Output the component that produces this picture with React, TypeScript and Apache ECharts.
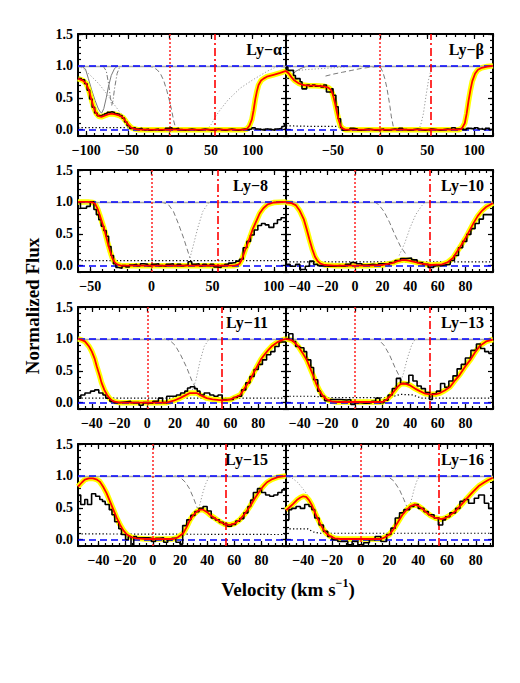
import React, { useEffect, useRef } from 'react';
import * as echarts from 'echarts';

type P = [number, number][];

// ---------- Ly-alpha ----------
const lyaData: P = [[-110,0.80],[-106,0.78],[-102,0.72],[-99,0.62],[-96,0.48],[-93,0.35],[-90,0.26],[-87,0.22],[-84,0.21],[-81,0.23],[-78,0.25],[-75,0.27],[-72,0.28],[-69,0.27],[-66,0.25],[-63,0.24],[-60,0.22],[-57,0.18],[-54,0.12],[-51,0.06],[-48,0.02],[-45,0.03],[-41,0.01],[-37,0.02],[-33,0.0],[-29,0.01],[-25,-0.01],[-21,0.0],[-17,0.01],[-13,-0.01],[-9,0.0],[-5,0.02],[-1,0.03],[3,0.01],[7,0.02],[11,0.0],[15,-0.01],[19,0.0],[23,0.01],[27,0.0],[31,-0.01],[35,0.0],[39,0.01],[43,0.0],[47,-0.01],[51,0.0],[55,0.01],[59,0.0],[63,-0.01],[67,0.0],[71,0.01],[75,0.0],[79,-0.01],[83,0.0],[87,0.01],[91,0.0],[95,0.01],[99,0.03],[103,0.01],[107,0.0],[111,-0.01],[115,0.01],[119,0.0],[123,-0.01],[127,0.01],[131,0.02],[135,0.05],[138,0.09],[140,0.09]];
const lyaModel: P = [[-110,0.80],[-104,0.77],[-100,0.72],[-97,0.62],[-94,0.48],[-91,0.34],[-88,0.25],[-85,0.21],[-82,0.20],[-78,0.22],[-74,0.24],[-70,0.25],[-65,0.24],[-60,0.22],[-56,0.19],[-52,0.12],[-49,0.07],[-46,0.03],[-42,0.01],[-38,0.0],[90,0.0],[93,0.01],[96,0.06],[99,0.16],[101,0.3],[103,0.47],[105,0.6],[107,0.7],[110,0.77],[113,0.80],[117,0.83],[125,0.86],[133,0.89],[140,0.92]];
const lyaError: P = [[-110,0.03],[-45,0.03],[-40,0.01],[140,0.01]];
const lyaCompA: P = [[-106,1.0],[-101,0.95],[-97.5,0.8],[-93.5,0.62],[-89.5,0.46],[-86,0.34],[-83.5,0.28],[-81.5,0.26],[-79,0.33],[-76,0.5],[-73.5,0.67],[-70,0.85],[-66,0.96],[-62,1.0]];
const lyaCompB: P = [[-80,1.0],[-76,0.92],[-73,0.7],[-71,0.5],[-69.5,0.38],[-68,0.45],[-66,0.65],[-63,0.88],[-60,0.98],[-56,1.0]];
const lyaCompC: P = [[-110,1.0],[-104,0.96],[-95,0.85],[-85,0.72],[-76,0.57],[-68,0.42],[-60,0.28],[-52,0.16],[-46,0.08],[-40,0.02],[-34,0.0]];
const lyaCompD: P = [[-26,1.0],[-20,0.98],[-15,0.94],[-11,0.88],[-7,0.77],[-3.4,0.62],[0,0.45],[2.6,0.30],[5,0.14],[7,0.04],[10,0.0]];
const lyaCompE: P = [[40,0.0],[46,0.02],[50,0.08],[55,0.2],[62,0.33],[70,0.46],[77,0.55],[85,0.65],[93,0.72],[100,0.78],[109,0.85],[118,0.92],[126,0.97],[134,1.0],[140,1.0]];

// ---------- Ly-beta ----------
const lybData: P = [[-100,0.98],[-98,0.93],[-94,0.93],[-92,0.85],[-90,0.80],[-87,0.80],[-85,0.75],[-83,0.64],[-80,0.64],[-78,0.70],[-75,0.68],[-72,0.70],[-69,0.68],[-66,0.69],[-63,0.67],[-60,0.70],[-57,0.59],[-53,0.59],[-51.5,0.64],[-50,0.54],[-47,0.36],[-44.5,0.17],[-42,0.03],[-40,-0.01],[-36,0.0],[-32,0.02],[-28,0.01],[-24,-0.01],[-20,0.0],[-16,0.01],[-12,0.0],[-8,-0.01],[-4,0.0],[0,0.01],[4,-0.01],[8,0.0],[12,0.01],[16,0.0],[20,0.02],[24,0.0],[28,-0.01],[32,0.0],[36,0.01],[40,0.0],[44,-0.01],[48,0.0],[52,0.01],[56,0.0],[60,-0.01],[64,0.0],[68,0.01],[72,0.0],[76,0.03],[80,0.01],[84,0.02],[88,0.0],[92,0.02],[96,0.01],[100,0.03],[104,0.01],[108,0.0],[112,0.02],[116,0.0],[120,0.0]];
const lybModel: P = [[-100,0.92],[-97,0.88],[-94,0.82],[-91,0.77],[-87,0.73],[-82,0.70],[-76,0.69],[-68,0.69],[-60,0.68],[-55,0.66],[-52,0.62],[-50,0.54],[-48,0.42],[-46,0.28],[-44,0.15],[-42,0.06],[-40,0.02],[-37,0.0],[84,0.0],[87,0.02],[90,0.1],[92,0.25],[94,0.45],[96,0.62],[98,0.76],[101,0.88],[104,0.94],[108,0.97],[114,0.99],[120,1.0]];
const lybError: P = [[-100,0.06],[-70,0.05],[-45,0.05],[-40,0.02],[120,0.02]];
const lybCompA: P = [[-100,0.8],[-97,0.82],[-93,0.87],[-89,0.92],[-84,0.96],[-79,0.99],[-74,1.0]];
const lybCompB: P = [[-100,0.9],[-90,0.92],[-80,0.94],[-70,0.95],[-60,0.96],[-50,0.97],[-40,0.98],[-30,0.99],[-20,1.0]];
const lybCompC: P = [[-58,0.84],[-50,0.87],[-40,0.9],[-30,0.93],[-20,0.96],[-10,0.98],[0,0.99],[3,0.9],[5,0.8],[7,0.67],[9,0.5],[10.5,0.36],[12,0.2],[14,0.05],[16,0.0]];
const lybCompD: P = [[40,0.0],[43,0.06],[46,0.25],[49,0.55],[51.5,0.78],[54,0.93],[57,0.99],[60,1.0]];

// ---------- Ly-8 ----------
const ly8Data: P = [[-60,0.99],[-58,0.90],[-55,0.90],[-53,0.93],[-50,1.0],[-47,0.88],[-45,0.80],[-43,0.72],[-41,0.62],[-39,0.55],[-37,0.46],[-35,0.30],[-33,0.16],[-31,0.03],[-29,-0.03],[-27,-0.04],[-24,0.0],[-21,-0.02],[-18,0.01],[-15,0.02],[-12,0.0],[-9,0.03],[-6,0.02],[-3,0.0],[0,0.02],[3,0.03],[6,0.0],[9,-0.01],[12,0.02],[15,0.03],[18,0.0],[21,0.02],[24,0.0],[27,0.01],[30,0.06],[33,0.02],[36,0.03],[39,0.0],[42,0.02],[45,0.0],[48,0.02],[51,-0.02],[54,-0.03],[57,0.0],[60,0.02],[63,0.04],[66,0.05],[69,0.07],[72,0.1],[75,0.28],[78,0.38],[81,0.48],[84,0.56],[87,0.63],[90,0.66],[93,0.64],[96,0.60],[100,0.66],[103,0.72],[106,0.75],[110,0.75]];
const ly8Model: P = [[-60,1.0],[-52,1.0],[-48,0.99],[-46,0.97],[-44,0.89],[-42,0.78],[-40,0.66],[-38,0.53],[-36,0.38],[-34,0.24],[-32,0.12],[-30,0.05],[-28,0.02],[-25,0.0],[68,0.0],[70,0.01],[72,0.03],[74,0.1],[76.5,0.24],[78.5,0.34],[80.6,0.45],[83,0.58],[86,0.71],[88.5,0.82],[91.5,0.9],[95,0.96],[100,0.99],[110,1.0]];
const ly8Error: P = [[-60,0.08],[110,0.08]];
const ly8Dashed: P = [[8,1.0],[13.8,0.96],[18,0.85],[22,0.66],[26,0.45],[29,0.27],[31.5,0.12]];
const ly8Dotted: P = [[31.5,0.12],[34,0.3],[38,0.6],[42,0.85],[46.5,0.98],[50,1.0]];

// ---------- Ly-10 ----------
const ly10Data: P = [[-50,0.02],[-47,-0.01],[-43,0.02],[-40,-0.06],[-36,-0.01],[-33,0.07],[-30,0.02],[-27,0.0],[-23,-0.01],[-19,-0.01],[-15,0.0],[-11,-0.01],[-7,0.02],[-3,0.05],[1,0.03],[5,0.01],[9,0.02],[13,0.01],[17,0.03],[21,0.02],[25,0.05],[29,0.08],[33,0.11],[37,0.12],[41,0.09],[45,0.05],[49,0.02],[53,-0.03],[57,0.0],[61,0.01],[65,0.02],[69,0.08],[72,0.16],[75,0.28],[78,0.38],[81,0.49],[84,0.58],[87,0.66],[90,0.73],[93,0.80],[97,0.80],[100,0.80]];
const ly10Model: P = [[-50,0.99],[-46,0.98],[-43,0.95],[-40,0.86],[-37,0.72],[-35,0.57],[-33,0.41],[-31,0.26],[-29,0.14],[-27,0.07],[-25,0.03],[-22,0.01],[-15,0.0],[10,0.0],[20,0.01],[27,0.04],[31,0.07],[35,0.09],[39,0.08],[43,0.06],[48,0.03],[55,0.01],[63,0.02],[67,0.05],[71,0.12],[74,0.22],[77,0.32],[80,0.43],[83,0.55],[86,0.67],[89,0.78],[92,0.86],[95,0.92],[100,0.98]];
const ly10Error: P = [[-50,0.06],[100,0.06]];
const ly10Dashed: P = [[14,1.0],[17,0.96],[21,0.85],[25,0.68],[29,0.48],[33,0.3],[37.5,0.16]];
const ly10Dotted: P = [[32,0.16],[36,0.35],[40,0.6],[44,0.8],[48,0.93],[51,1.0]];

// ---------- Ly-11 ----------
const ly11Data: P = [[-50,0.07],[-48,0.12],[-45,0.15],[-41,0.18],[-38,0.20],[-35,0.15],[-32,0.12],[-30,0.07],[-27,0.02],[-24,0.0],[-20,0.01],[-16,0.02],[-12,0.0],[-8,0.0],[-6,-0.04],[-3,0.0],[1,-0.01],[4,0.02],[8,0.07],[11,0.0],[14,0.10],[18,0.10],[21,0.12],[24,0.15],[27,0.18],[29,0.23],[31,0.25],[34,0.22],[36,0.18],[38,0.12],[41,0.15],[45,0.12],[48,0.10],[51,0.12],[54,0.05],[58,0.05],[62,0.08],[65,0.10],[68,0.20],[71,0.31],[74,0.41],[77,0.52],[80,0.60],[83,0.67],[86,0.75],[89,0.80],[92,0.88],[95,0.95],[100,0.95]];
const ly11Model: P = [[-50,1.0],[-47,0.98],[-45,0.96],[-42,0.88],[-40,0.80],[-38,0.69],[-36.5,0.57],[-34.5,0.43],[-33,0.31],[-31,0.2],[-29,0.12],[-27,0.06],[-24.5,0.02],[-20,0.0],[14,0.0],[19,0.03],[23.5,0.07],[27,0.11],[30.7,0.15],[35.6,0.15],[39,0.11],[42.8,0.07],[47,0.05],[52,0.04],[57,0.04],[60,0.05],[63,0.08],[67,0.12],[70,0.22],[74,0.35],[77,0.48],[79,0.56],[82,0.68],[84,0.74],[87,0.82],[90,0.89],[94,0.95],[97,0.98],[100,1.0]];
const ly11Error: P = [[-50,0.07],[100,0.07]];
const ly11Dashed: P = [[12,1.0],[16,0.98],[20,0.9],[24,0.75],[28.4,0.55],[32,0.35],[35.6,0.2]];
const ly11Dotted: P = [[32.5,0.2],[35,0.35],[38,0.65],[41,0.88],[44,0.98],[47,1.0]];

// ---------- Ly-13 ----------
const ly13Data: P = [[-50,1.0],[-48,1.08],[-45,0.96],[-43,0.88],[-40,0.86],[-37,0.80],[-35,0.67],[-32,0.55],[-30,0.36],[-27,0.18],[-25,0.10],[-22,0.03],[-18,0.05],[-14,0.05],[-10,0.04],[-6,0.05],[-3,-0.03],[0,0.0],[4,-0.01],[8,0.0],[12,0.02],[15,0.07],[18,0.0],[21,0.04],[24,0.12],[27,0.22],[30,0.38],[33,0.30],[36,0.31],[39,0.43],[42,0.34],[45,0.26],[48,0.22],[51,0.16],[54,0.05],[56,0.14],[59,0.18],[62,0.30],[65,0.24],[68,0.34],[71,0.42],[74,0.53],[77,0.60],[80,0.70],[84,0.82],[88,0.92],[91,0.85],[94,0.80],[97,0.77],[100,0.77]];
const ly13Model: P = [[-50,1.0],[-46,0.98],[-44,0.95],[-41,0.88],[-38,0.78],[-35,0.67],[-32.5,0.54],[-30,0.41],[-28,0.29],[-25.5,0.18],[-23,0.1],[-20.5,0.05],[-17,0.02],[-13,0.01],[20,0.01],[23,0.05],[25.5,0.10],[28,0.17],[30.5,0.24],[33,0.29],[35,0.30],[37.5,0.29],[40,0.27],[43.5,0.22],[47,0.18],[51,0.14],[54.5,0.13],[58,0.13],[61.5,0.15],[65,0.19],[69,0.25],[72.5,0.35],[76,0.44],[80,0.57],[83.5,0.67],[87,0.79],[90.5,0.89],[95,0.96],[100,0.99]];
const ly13Error: P = [[-50,0.10],[-30,0.10],[-20,0.08],[25,0.08],[33,0.13],[42,0.12],[48,0.07],[100,0.07]];
const ly13Dashed: P = [[14,1.0],[17,0.99],[21,0.9],[25,0.75],[29,0.55],[32,0.42],[35,0.3]];
const ly13Dotted: P = [[32.5,0.3],[35,0.45],[38,0.7],[41,0.9],[43.5,0.99],[46,1.0]];

// ---------- Ly-15 ----------
const ly15Data: P = [[-55,0.70],[-53,0.55],[-50,0.63],[-48,0.55],[-45,0.72],[-42,0.68],[-39,0.63],[-37,0.60],[-35,0.55],[-32,0.47],[-30,0.39],[-28,0.28],[-25,0.17],[-23,0.08],[-20,0.0],[-18,0.05],[-16,-0.12],[-14,0.05],[-12,0.03],[-9,0.03],[-6,0.03],[-3,0.02],[-1,-0.03],[2,0.02],[5,0.03],[8,-0.04],[11,0.0],[14,0.02],[17,-0.04],[20,-0.07],[22,0.22],[25,0.31],[28,0.38],[31,0.44],[34,0.49],[37,0.52],[40,0.45],[43,0.34],[46,0.31],[49,0.27],[52,0.24],[55,0.21],[58,0.24],[61,0.29],[64,0.33],[67,0.42],[70,0.52],[72,0.62],[74,0.74],[77,0.80],[80,0.74],[83,0.70],[86,0.68],[89,0.70],[92,0.74],[95,0.78],[98,0.80]];
const ly15Model: P = [[-55,0.83],[-52,0.90],[-50,0.94],[-47,0.96],[-44,0.96],[-41,0.94],[-39,0.91],[-36.5,0.83],[-34,0.73],[-31.5,0.60],[-29,0.47],[-26.5,0.34],[-24,0.23],[-21.5,0.14],[-19,0.08],[-16,0.04],[-12,0.02],[-5,0.01],[15,0.01],[18,0.03],[20,0.06],[22.4,0.10],[25,0.2],[27.4,0.31],[30,0.39],[32.3,0.44],[35,0.47],[37,0.47],[40,0.43],[42,0.39],[46,0.33],[49.4,0.28],[53,0.24],[56.8,0.23],[60,0.25],[64,0.31],[67.5,0.4],[71.5,0.52],[74.5,0.63],[77.6,0.73],[81,0.83],[84,0.9],[88,0.95],[92,0.98],[98,1.0]];
const ly15Error: P = [[-55,0.09],[98,0.08]];
const ly15Dashed: P = [[16,1.0],[20,0.98],[24,0.9],[27,0.8],[30,0.65],[32.3,0.52],[34,0.44]];
const ly15Dotted: P = [[33,0.44],[35,0.58],[37,0.75],[39,0.88],[41,0.97],[43,1.0]];

// ---------- Ly-16 ----------
const ly16Data: P = [[-52,0.31],[-50,0.47],[-48,0.49],[-45,0.52],[-42,0.49],[-39,0.55],[-36,0.52],[-34,0.47],[-32,0.34],[-29,0.23],[-26,0.13],[-23,0.05],[-20,0.0],[-16,-0.03],[-13,-0.03],[-9,-0.08],[-6,-0.03],[-2,-0.08],[2,-0.05],[6,0.0],[10,0.05],[14,-0.03],[18,0.08],[21,0.18],[24,0.34],[27,0.42],[30,0.47],[34,0.52],[37,0.55],[40,0.49],[44,0.44],[47,0.39],[51,0.34],[54,0.23],[57,0.31],[59,0.36],[62,0.42],[66,0.49],[69,0.60],[72,0.63],[75,0.57],[79,0.65],[82,0.70],[86,0.57],[89,0.49],[92,0.49]];
const ly16Model: P = [[-52,0.46],[-49,0.52],[-47,0.56],[-44,0.63],[-42,0.66],[-40,0.68],[-38,0.67],[-36,0.62],[-34,0.54],[-32,0.43],[-30,0.33],[-28,0.24],[-26,0.16],[-24,0.1],[-21,0.05],[-18,0.02],[-14,0.01],[14,0.01],[17,0.04],[20,0.08],[23,0.17],[26,0.28],[29,0.39],[32,0.47],[35,0.53],[37.5,0.55],[40,0.53],[43,0.48],[46,0.42],[49,0.37],[52,0.34],[56,0.32],[59,0.34],[62,0.38],[66,0.45],[70,0.55],[74,0.65],[78,0.75],[82,0.84],[86,0.9],[89,0.94],[92,0.97]];
const ly16Error: P = [[-52,0.17],[-37,0.17],[-33,0.12],[-28,0.10],[92,0.10]];
const ly16DottedBlue: P = [[-52,1.0],[-48,0.97],[-44,0.9],[-41,0.82],[-39,0.76],[-37,0.7]];
const ly16Dashed: P = [[15,1.0],[19,0.99],[23,0.92],[27,0.78],[30,0.63],[32,0.52],[34,0.45]];
const ly16Dotted: P = [[33,0.48],[35,0.6],[37,0.78],[39,0.92],[41,1.0]];

// ---------- tick labels ----------
const ticksWide = [-100, -50, 0, 50, 100];
const ticksBeta = [-50, 0, 50, 100];
const ticksLy8 = [-50, 0, 50, 100];
const ticksNarrow = [-40, -20, 0, 20, 40, 60, 80];
const yTicks = [0, 0.5, 1.0, 1.5];

const V_DASHDOT = 54;
const FONT = '"Liberation Serif", "Times New Roman", serif';

type Comp = { d: P; t: 'solid' | 'dashed' | 'dotted' | 'dashdot' };
type Panel = {
  name: string; row: number; col: number; xmin: number; xmax: number;
  labels: number[]; minorStep: number; data: P; model: P; error: P; comps: Comp[];
};

const panels: Panel[] = [
  { name: 'Ly−α', row: 0, col: 0, xmin: -110, xmax: 140, labels: ticksWide, minorStep: 10, data: lyaData, model: lyaModel, error: lyaError,
    comps: [{ d: lyaCompA, t: 'solid' }, { d: lyaCompB, t: 'dashdot' }, { d: lyaCompC, t: 'dotted' }, { d: lyaCompD, t: 'dashed' }, { d: lyaCompE, t: 'dotted' }] },
  { name: 'Ly−β', row: 0, col: 1, xmin: -100, xmax: 120, labels: ticksBeta, minorStep: 10, data: lybData, model: lybModel, error: lybError,
    comps: [{ d: lybCompA, t: 'solid' }, { d: lybCompB, t: 'dotted' }, { d: lybCompC, t: 'dashed' }, { d: lybCompD, t: 'dotted' }] },
  { name: 'Ly−8', row: 1, col: 0, xmin: -60, xmax: 110, labels: ticksLy8, minorStep: 10, data: ly8Data, model: ly8Model, error: ly8Error,
    comps: [{ d: ly8Dashed, t: 'dashed' }, { d: ly8Dotted, t: 'dotted' }] },
  { name: 'Ly−10', row: 1, col: 1, xmin: -50, xmax: 100, labels: ticksNarrow, minorStep: 5, data: ly10Data, model: ly10Model, error: ly10Error,
    comps: [{ d: ly10Dashed, t: 'dashed' }, { d: ly10Dotted, t: 'dotted' }] },
  { name: 'Ly−11', row: 2, col: 0, xmin: -50, xmax: 100, labels: ticksNarrow, minorStep: 5, data: ly11Data, model: ly11Model, error: ly11Error,
    comps: [{ d: ly11Dashed, t: 'dashed' }, { d: ly11Dotted, t: 'dotted' }] },
  { name: 'Ly−13', row: 2, col: 1, xmin: -50, xmax: 100, labels: ticksNarrow, minorStep: 5, data: ly13Data, model: ly13Model, error: ly13Error,
    comps: [{ d: ly13Dashed, t: 'dashed' }, { d: ly13Dotted, t: 'dotted' }] },
  { name: 'Ly−15', row: 3, col: 0, xmin: -55, xmax: 98, labels: ticksNarrow, minorStep: 5, data: ly15Data, model: ly15Model, error: ly15Error,
    comps: [{ d: ly15Dashed, t: 'dashed' }, { d: ly15Dotted, t: 'dotted' }] },
  { name: 'Ly−16', row: 3, col: 1, xmin: -52, xmax: 92, labels: ticksNarrow, minorStep: 5, data: ly16Data, model: ly16Model, error: ly16Error,
    comps: [{ d: ly16DottedBlue, t: 'dotted' }, { d: ly16Dashed, t: 'dashed' }, { d: ly16Dotted, t: 'dotted' }] },
];

const GRID_LEFT = [78, 286];
const GRID_WIDTH = [208, 207];
const GRID_TOP = [34, 170, 307, 444];
const GRID_HEIGHT = 102;
const YMIN = -0.1;
const YMAX = 1.5;

function steps(from: number, to: number, step: number): number[] {
  const out: number[] = [];
  const start = Math.ceil(from / step) * step;
  for (let v = start; v <= to + 1e-9; v += step) out.push(Math.round(v * 1000) / 1000);
  return out;
}

const fmtX = (v: number) => (v < 0 ? '−' + Math.abs(v) : String(v));
const fmtY = (v: number) => Number(v).toFixed(1);

function lineType(t: Comp['t']): any {
  if (t === 'solid') return 'solid';
  if (t === 'dashed') return [5, 3];
  if (t === 'dotted') return [1.2, 2];
  return [5, 2, 1.2, 2];
}

function buildOption() {
  const grid: any[] = [];
  const xAxis: any[] = [];
  const yAxis: any[] = [];
  const series: any[] = [];
  const graphic: any[] = [];

  panels.forEach((p, i) => {
    const left = GRID_LEFT[p.col];
    const width = GRID_WIDTH[p.col];
    const top = GRID_TOP[p.row];
    grid.push({ left, top, width, height: GRID_HEIGHT, containLabel: false });

    const majorX = p.labels;
    const minorX = steps(p.xmin, p.xmax, p.minorStep);
    const minorY = steps(YMIN, YMAX, 0.1);

    const baseX = (extra: any) => ({
      type: 'value', gridIndex: i, min: p.xmin, max: p.xmax,
      splitLine: { show: false }, minorTick: { show: false }, minorSplitLine: { show: false },
      ...extra,
    });
    const lineOn = { show: true, onZero: false, lineStyle: { color: '#000', width: 2 } };
    const lineOff = { show: false, onZero: false };
    const tick = (vals: number[], len: number) => ({ show: true, inside: true, length: len, customValues: vals, lineStyle: { color: '#000', width: 1.2 } });

    xAxis.push(baseX({
      position: 'bottom', axisLine: lineOn, axisTick: tick(majorX, 5),
      axisLabel: { show: true, customValues: p.labels, formatter: fmtX, margin: 7, fontFamily: FONT, fontWeight: 'bold', fontSize: 14, color: '#000' },
    }));
    xAxis.push(baseX({ position: 'bottom', axisLine: lineOff, axisTick: tick(minorX, 3), axisLabel: { show: false } }));
    xAxis.push(baseX({ position: 'top', axisLine: lineOn, axisTick: tick(majorX, 5), axisLabel: { show: false } }));
    xAxis.push(baseX({ position: 'top', axisLine: lineOff, axisTick: tick(minorX, 3), axisLabel: { show: false } }));

    const baseY = (extra: any) => ({
      type: 'value', gridIndex: i, min: YMIN, max: YMAX,
      splitLine: { show: false }, minorTick: { show: false }, minorSplitLine: { show: false },
      ...extra,
    });
    yAxis.push(baseY({
      position: 'left', axisLine: lineOn, axisTick: tick(yTicks, 5),
      axisLabel: p.col === 0
        ? { show: true, customValues: yTicks, formatter: fmtY, margin: 5, fontFamily: FONT, fontWeight: 'bold', fontSize: 14, color: '#000' }
        : { show: false },
    }));
    yAxis.push(baseY({ position: 'left', axisLine: lineOff, axisTick: tick(minorY, 3), axisLabel: { show: false } }));
    yAxis.push(baseY({ position: 'right', axisLine: lineOn, axisTick: tick(yTicks, 5), axisLabel: { show: false } }));
    yAxis.push(baseY({ position: 'right', axisLine: lineOff, axisTick: tick(minorY, 3), axisLabel: { show: false } }));

    const xi = i * 4;
    const yi = i * 4;
    const common = { xAxisIndex: xi, yAxisIndex: yi, symbol: 'none', silent: true, animation: false };

    p.comps.forEach((c) => {
      series.push({
        ...common, type: 'line', data: c.d, z: 2,
        lineStyle: { color: c.t === 'dotted' ? '#999999' : '#7a7a7a', width: 1, type: lineType(c.t) },
      });
    });

    series.push({
      ...common, type: 'line', data: p.error, z: 3,
      lineStyle: { color: '#000', width: 1.2, type: [1.3, 2.2] },
      markLine: {
        symbol: ['none', 'none'], silent: true, animation: false, label: { show: false },
        data: [
          { yAxis: 1, lineStyle: { color: '#a8a8a8', width: 1.4, type: 'solid' } },
          { yAxis: 1, lineStyle: { color: '#0000ff', width: 1.6, type: [7, 4] } },
          { yAxis: 0, lineStyle: { color: '#0000ff', width: 1.6, type: [7, 4] } },
          { xAxis: 0, lineStyle: { color: '#ff2020', width: 1.5, type: [2, 2] } },
          { xAxis: V_DASHDOT, lineStyle: { color: '#ff0000', width: 1.6, type: [8, 3, 2, 3] } },
        ],
      },
    });

    series.push({ ...common, type: 'line', data: p.model, z: 4, lineStyle: { color: '#ffff00', width: 5.5 } });
    series.push({ ...common, type: 'line', data: p.data, step: 'end', z: 5, lineStyle: { color: '#000', width: 1.6 } });
    series.push({ ...common, type: 'line', data: p.model, z: 6, lineStyle: { color: '#ff0000', width: 1.8 } });

    const labelRight = p.col === 0 ? (p.row === 0 ? left + width - 4 : left + width - 18) : left + width - 9;
    graphic.push({
      type: 'text', x: labelRight, y: top + 15, z: 100,
      style: { text: p.name, fill: '#000', font: `bold 16px ${FONT}`, align: 'right', textAlign: 'right', verticalAlign: 'middle', textVerticalAlign: 'middle' },
    });
  });

  graphic.push({
    type: 'text', x: 32, y: 306, rotation: Math.PI / 2, z: 100,
    style: { text: 'Normalized Flux', fill: '#000', font: `bold 19px ${FONT}`, align: 'center', textAlign: 'center', verticalAlign: 'middle', textVerticalAlign: 'middle' },
  });
  graphic.push({
    type: 'text', x: 288, y: 588, z: 100,
    style: {
      text: '{a|Velocity (km s}{b|−1}{a|)}', fill: '#000', align: 'center', textAlign: 'center', verticalAlign: 'middle', textVerticalAlign: 'middle',
      rich: {
        a: { font: `bold 19px ${FONT}`, fill: '#000', lineHeight: 22, verticalAlign: 'bottom' },
        b: { font: `bold 12px ${FONT}`, fill: '#000', lineHeight: 22, verticalAlign: 'top' },
      },
    },
  });

  return {
    animation: false,
    backgroundColor: '#ffffff',
    textStyle: { fontFamily: FONT },
    grid, xAxis, yAxis, series, graphic,
  };
}

export default function App() {
  const ref = useRef<HTMLDivElement>(null);
  useEffect(() => {
    if (!ref.current) return;
    const chart = echarts.init(ref.current, null, { renderer: 'svg' });
    chart.setOption(buildOption() as any);
    return () => chart.dispose();
  }, []);
  return (
    <div
      ref={ref}
      style={{ position: 'absolute', left: 0, top: 0, width: 520, height: 683, background: '#fff' }}
    />
  );
}
